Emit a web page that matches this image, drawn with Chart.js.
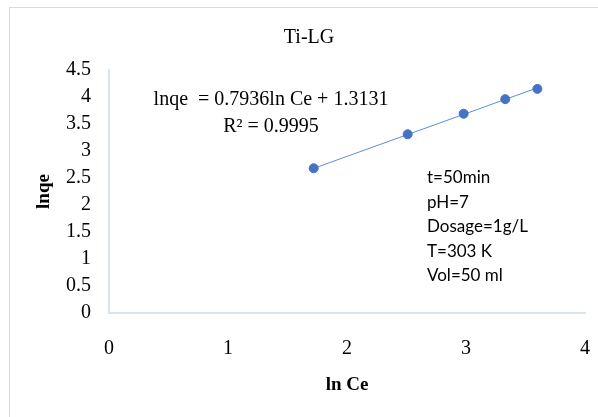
<!DOCTYPE html>
<html>
<head>
<meta charset="utf-8">
<script src="https://cdn.jsdelivr.net/npm/chart.js@4.4.1/dist/chart.umd.min.js"></script>
<style>
  html, body { margin: 0; padding: 0; background: #fff; }
  #wrap { width: 598px; height: 417px; }
</style>
</head>
<body>
<div id="wrap"><canvas id="chart" width="598" height="417"></canvas></div>
<script>
// données
const lnCe = [1.72, 2.51, 2.98, 3.33, 3.60];
const lnqe = [2.68, 3.31, 3.69, 3.96, 4.15];
const slope = 0.7936;
const intercept = 1.3131;
const equationLines = ["lnqe  = 0.7936ln Ce + 1.3131", "R\u00B2 = 0.9995"];
const conditions = ["t=50min", "pH=7", "Dosage=1g/L", "T=303 K", "Vol=50 ml"];

const serif = "'Liberation Serif', 'Times New Roman', serif";
const sans = "Lato, 'Noto Sans', sans-serif";

const points = lnCe.map((x, i) => ({ x: x, y: lnqe[i] }));
const xMin = Math.min(...lnCe), xMax = Math.max(...lnCe);
const trend = [xMin, xMax].map(x => ({ x: x, y: slope * x + intercept }));

// cadre + textes annexes
const extras = {
  id: "extras",
  beforeDraw(chart) {
    const ctx = chart.ctx;
    ctx.save();
    ctx.strokeStyle = "#d9d9d9";
    ctx.lineWidth = 1;
    ctx.strokeRect(9.5, 7.5, 600, 420);
    ctx.restore();
  },
  afterDraw(chart) {
    const ctx = chart.ctx;
    ctx.save();
    ctx.fillStyle = "#000";
    ctx.textBaseline = "middle";
    ctx.textAlign = "center";
    ctx.font = "20px " + serif;
    ctx.fillText(equationLines[0], 271, 100);
    ctx.fillText(equationLines[1], 271, 127);
    ctx.textAlign = "left";
    ctx.font = "17px " + sans;
    conditions.forEach((t, i) => ctx.fillText(t, 427, 178 + i * 24.5));
    ctx.restore();
  }
};

new Chart(document.getElementById("chart").getContext("2d"), {
  type: "scatter",
  data: {
    datasets: [
      {
        label: "trend",
        data: trend,
        showLine: true,
        borderColor: "#5b8fd6",
        borderWidth: 1,
        pointRadius: 0,
        order: 2
      },
      {
        label: "lnqe",
        data: points,
        backgroundColor: "#4472c4",
        borderColor: "#4472c4",
        pointRadius: 4.5,
        order: 1
      }
    ]
  },
  options: {
    responsive: false,
    animation: false,
    layout: { padding: { left: 33, right: 13, top: 0, bottom: 0 } },
    plugins: {
      legend: { display: false },
      tooltip: { enabled: false },
      title: {
        display: true,
        text: "Ti-LG",
        color: "#000",
        font: { family: serif, size: 20, weight: "normal" },
        padding: { top: 26, bottom: 20 }
      }
    },
    scales: {
      x: {
        type: "linear",
        min: 0,
        max: 4,
        ticks: { stepSize: 1, color: "#000", padding: 24, font: { family: serif, size: 20 } },
        grid: { display: false, drawTicks: false },
        border: { display: true, color: "#d9e2f3", width: 2 },
        title: {
          display: true,
          text: "ln Ce",
          color: "#000",
          font: { family: serif, size: 19, weight: "bold" },
          padding: { top: 0, bottom: 21 }
        },
        afterFit(s) { s.height = 104; s.paddingLeft = 0; s.paddingRight = 0; }
      },
      y: {
        min: 0,
        max: 4.5,
        ticks: {
          stepSize: 0.5, color: "#000", padding: 18, font: { family: serif, size: 20 },
          callback: v => String(v)
        },
        grid: { display: false, drawTicks: false },
        border: { display: true, color: "#d9e2f3", width: 2 },
        title: {
          display: true,
          text: "lnqe",
          color: "#000",
          font: { family: serif, size: 19, weight: "bold" },
          padding: { top: 0, bottom: 0 }
        },
        afterFit(s) { s.width = 76; }
      }
    }
  },
  plugins: [extras]
});
</script>
</body>
</html>
